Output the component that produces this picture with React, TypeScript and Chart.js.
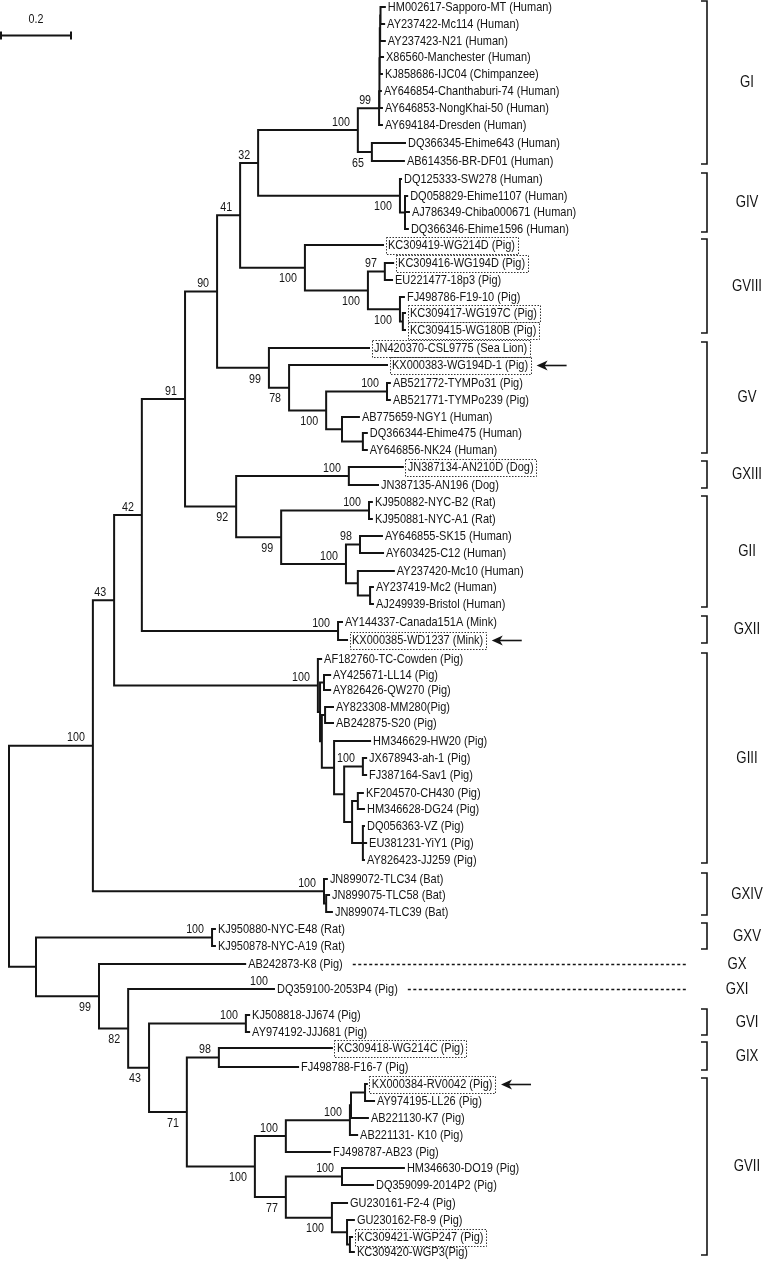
import { useEffect, useRef } from 'react';
import { Chart, registerables } from 'chart.js';
Chart.register(...registerables);

// ---------- Tree data ----------
// Internal nodes: parent index (-1 = root), depth from root (substitutions/site), bootstrap support, label below branch?
const nodeParent = [
  -1, 0, 1, 2, 3, 4, 5, 6, 7, 8, 9, 10, 11, 12, 13, 14, 8, 7, 17, 6,
  19, 20, 20, 22, 5, 24, 25, 26, 26, 28, 4, 30, 30, 32, 32, 34, 34, 36, 3, 2,
  39, 40, 40, 42, 42, 44, 45, 45, 47, 47, 1, 50, 0, 52, 52, 54, 55, 56, 56, 58,
  58, 60, 61, 62, 63, 60, 65, 65, 67, 68,
];
const nodeDepth = [
  0, 0.233, 0.292, 0.369, 0.489, 0.578, 0.642, 0.692, 0.969, 1.028, 1.029, 1.029, 1.03, 1.03, 1.031, 1.032, 1.008, 1.086, 1.1, 0.822,
  0.997, 1.044, 1.086, 1.094, 0.722, 0.778, 0.881, 1.05, 0.925, 0.983, 0.631, 0.944, 0.756, 1.0, 0.936, 0.975, 0.969, 1.003, 0.914, 0.858,
  0.864, 0.875, 0.869, 0.878, 0.903, 0.931, 0.983, 0.953, 0.969, 0.983, 0.875, 0.881, 0.075, 0.564, 0.25, 0.331, 0.389, 0.658, 0.494, 0.583,
  0.683, 0.769, 0.947, 0.95, 0.989, 0.769, 0.925, 0.897, 0.939, 0.947,
];
const nodeSupport = [
  '', '100', '43', '42', '91', '90', '41', '32', '100', '99', '', '', '', '', '', '', '65', '100', '', '100',
  '100', '97', '100', '', '99', '78', '100', '100', '', '', '92', '100', '99', '100', '100', '98', '', '', '100', '100',
  '', '', '', '', '', '', '100', '', '', '', '100', '', '', '100', '99', '82', '43', '100', '71', '98',
  '100', '100', '100', '', '', '77', '100', '100', '', '',
];
const nodeSupportBelow = [
  0, 0, 0, 0, 0, 0, 0, 0, 0, 0, 0, 0, 0, 0, 0, 0, 1, 1, 0, 1,
  1, 0, 1, 0, 1, 1, 1, 0, 0, 0, 1, 0, 1, 0, 0, 0, 0, 0, 0, 0,
  0, 0, 0, 0, 0, 0, 0, 0, 0, 0, 0, 0, 0, 0, 1, 1, 1, 0, 1, 0,
  1, 0, 0, 0, 0, 1, 0, 1, 0, 0,
];

// Leaves (tips), top to bottom
const leafNames = [
  'HM002617-Sapporo-MT (Human)', 'AY237422-Mc114 (Human)', 'AY237423-N21 (Human)', 'X86560-Manchester (Human)',
  'KJ858686-IJC04 (Chimpanzee)', 'AY646854-Chanthaburi-74 (Human)', 'AY646853-NongKhai-50 (Human)', 'AY694184-Dresden (Human)',
  'DQ366345-Ehime643 (Human)', 'AB614356-BR-DF01 (Human)', 'DQ125333-SW278 (Human)', 'DQ058829-Ehime1107 (Human)',
  'AJ786349-Chiba000671 (Human)', 'DQ366346-Ehime1596 (Human)', 'KC309419-WG214D (Pig)', 'KC309416-WG194D (Pig)',
  'EU221477-18p3 (Pig)', 'FJ498786-F19-10 (Pig)', 'KC309417-WG197C (Pig)', 'KC309415-WG180B (Pig)',
  'JN420370-CSL9775 (Sea Lion)', 'KX000383-WG194D-1 (Pig)', 'AB521772-TYMPo31 (Pig)', 'AB521771-TYMPo239 (Pig)',
  'AB775659-NGY1 (Human)', 'DQ366344-Ehime475 (Human)', 'AY646856-NK24 (Human)', 'JN387134-AN210D (Dog)',
  'JN387135-AN196 (Dog)', 'KJ950882-NYC-B2 (Rat)', 'KJ950881-NYC-A1 (Rat)', 'AY646855-SK15 (Human)',
  'AY603425-C12 (Human)', 'AY237420-Mc10 (Human)', 'AY237419-Mc2 (Human)', 'AJ249939-Bristol (Human)',
  'AY144337-Canada151A (Mink)', 'KX000385-WD1237 (Mink)', 'AF182760-TC-Cowden (Pig)', 'AY425671-LL14 (Pig)',
  'AY826426-QW270 (Pig)', 'AY823308-MM280(Pig)', 'AB242875-S20 (Pig)', 'HM346629-HW20 (Pig)',
  'JX678943-ah-1 (Pig)', 'FJ387164-Sav1 (Pig)', 'KF204570-CH430 (Pig)', 'HM346628-DG24 (Pig)',
  'DQ056363-VZ (Pig)', 'EU381231-YiY1 (Pig)', 'AY826423-JJ259 (Pig)', 'JN899072-TLC34 (Bat)',
  'JN899075-TLC58 (Bat)', 'JN899074-TLC39 (Bat)', 'KJ950880-NYC-E48 (Rat)', 'KJ950878-NYC-A19 (Rat)',
  'AB242873-K8 (Pig)', 'DQ359100-2053P4 (Pig)', 'KJ508818-JJ674 (Pig)', 'AY974192-JJJ681 (Pig)',
  'KC309418-WG214C (Pig)', 'FJ498788-F16-7 (Pig)', 'KX000384-RV0042 (Pig)', 'AY974195-LL26 (Pig)',
  'AB221130-K7 (Pig)', 'AB221131- K10 (Pig)', 'FJ498787-AB23 (Pig)', 'HM346630-DO19 (Pig)',
  'DQ359099-2014P2 (Pig)', 'GU230161-F2-4 (Pig)', 'GU230162-F8-9 (Pig)', 'KC309421-WGP247 (Pig)',
  'KC309420-WGP3(Pig)',
];
const leafParent = [
  15, 15, 14, 13, 12, 11, 10, 9, 16, 16, 17, 18, 18, 18, 19, 21, 21, 22, 23, 23,
  24, 25, 27, 27, 28, 29, 29, 31, 31, 33, 33, 35, 35, 36, 37, 37, 38, 38, 39, 41,
  41, 43, 43, 44, 46, 46, 48, 48, 49, 49, 49, 50, 51, 51, 53, 53, 54, 55, 57, 57,
  59, 59, 64, 64, 63, 62, 61, 66, 66, 67, 68, 69, 69,
];
const leafDepth = [
  1.044, 1.042, 1.044, 1.039, 1.036, 1.033, 1.036, 1.036, 1.1, 1.097, 1.089, 1.106, 1.111, 1.108, 1.039, 1.067, 1.064, 1.097, 1.1, 1.1,
  1.0, 1.05, 1.058, 1.058, 0.972, 0.994, 0.994, 1.094, 1.025, 1.008, 1.008, 1.036, 1.039, 1.069, 1.011, 1.011, 0.925, 0.939, 0.867, 0.892,
  0.892, 0.9, 0.9, 1.003, 0.992, 0.992, 0.983, 0.986, 0.986, 0.992, 0.986, 0.883, 0.889, 0.897, 0.572, 0.572, 0.656, 0.736, 0.667, 0.667,
  0.897, 0.803, 0.994, 1.014, 0.997, 0.967, 0.892, 1.097, 1.011, 0.939, 0.958, 0.953, 0.958,
];
const leafY = [
  7, 24, 41, 57, 74, 91, 108, 125, 143, 161, 179, 196, 212, 229, 245, 263, 280, 297, 313, 330,
  348, 365, 383, 400, 417, 433, 450, 467, 485, 502, 519, 536, 553, 571, 587, 604, 622, 640, 659, 675,
  690, 707, 723, 741, 758, 775, 793, 809, 826, 843, 860, 879, 895, 912, 929, 946, 964, 989, 1015, 1032,
  1048, 1067, 1084, 1101, 1118, 1135, 1152, 1168, 1185, 1203, 1220, 1237, 1252,
];
const boxedLeaves = [14, 15, 18, 19, 20, 21, 27, 37, 60, 62, 71];
const arrowLeaves = [21, 37, 62];
const leafSupportIndex = [57];
const leafSupportValue = ['100'];

// Genogroups: label, first tip, last tip (single-tip groups get a dashed leader)
const cladeLabels = ['GI', 'GIV', 'GVIII', 'GV', 'GXIII', 'GII', 'GXII', 'GIII', 'GXIV', 'GXV', 'GX', 'GXI', 'GVI', 'GIX', 'GVII'];
const cladeFirst = [0, 10, 14, 20, 27, 29, 36, 38, 51, 54, 56, 57, 58, 60, 62];
const cladeLast = [9, 13, 19, 26, 28, 35, 37, 50, 53, 55, 56, 57, 59, 61, 72];

const scaleBarValue = 0.2;
const scaleBarLabel = '0.2';

// ---------- layout constants ----------
const W = 763;
const H = 1264;
const PX_PER_UNIT = 360;
const X_MIN = -9 / PX_PER_UNIT;
const X_MAX = X_MIN + W / PX_PER_UNIT;
const INK = '#141414';
const FONT = '"Liberation Sans", Arial, Helvetica, sans-serif';

function computeTree() {
  const nN = nodeParent.length;
  const kidNodes: number[][] = Array.from({ length: nN }, () => []);
  const kidLeaves: number[][] = Array.from({ length: nN }, () => []);
  nodeParent.forEach((p, i) => { if (p >= 0) kidNodes[p].push(i); });
  leafParent.forEach((p, i) => kidLeaves[p].push(i));
  const nodeY: number[] = new Array(nN).fill(NaN);
  const span: [number, number][] = new Array(nN);
  const calc = (i: number): number => {
    if (!isNaN(nodeY[i])) return nodeY[i];
    const ys = [...kidNodes[i].map(calc), ...kidLeaves[i].map((l) => leafY[l])];
    const lo = Math.min(...ys);
    const hi = Math.max(...ys);
    span[i] = [lo, hi];
    nodeY[i] = (lo + hi) / 2;
    return nodeY[i];
  };
  for (let i = 0; i < nN; i++) calc(i);
  const pts: { x: number; y: number | null }[] = [];
  const seg = (x1: number, y1: number, x2: number, y2: number) => {
    pts.push({ x: x1, y: y1 }, { x: x2, y: y2 }, { x: x2, y: null });
  };
  for (let i = 0; i < nN; i++) {
    seg(nodeDepth[i], span[i][0], nodeDepth[i], span[i][1]);
    if (nodeParent[i] >= 0) seg(nodeDepth[nodeParent[i]], nodeY[i], nodeDepth[i], nodeY[i]);
  }
  leafNames.forEach((_, l) => seg(nodeDepth[leafParent[l]], leafY[l], leafDepth[l], leafY[l]));
  return { nodeY, pts };
}

function drawText(ctx: CanvasRenderingContext2D, text: string, x: number, y: number, size: number, sx: number, align: 'left' | 'right' | 'center') {
  ctx.save();
  ctx.font = `${size}px ${FONT}`;
  const w = ctx.measureText(text).width * sx;
  let left = x;
  if (align === 'right') left = x - w;
  else if (align === 'center') left = x - w / 2;
  ctx.translate(left, y);
  ctx.scale(sx, 1);
  ctx.fillStyle = INK;
  ctx.textAlign = 'left';
  ctx.textBaseline = 'middle';
  ctx.fillText(text, 0, 0);
  ctx.restore();
  return w;
}

export default function App() {
  const ref = useRef<HTMLCanvasElement | null>(null);
  useEffect(() => {
    if (!ref.current) return;
    const { nodeY, pts } = computeTree();

    const annotate = {
      id: 'treeAnnotations',
      afterDatasetsDraw(chart: any) {
        const ctx: CanvasRenderingContext2D = chart.ctx;
        const xs = chart.scales.x;
        const ys = chart.scales.y;
        const area = chart.chartArea;
        const px = (v: number) => xs.getPixelForValue(v);
        const py = (v: number) => ys.getPixelForValue(v);
        const textEnd: number[] = [];
        const boxRight: number[] = [];

        // tip labels
        leafNames.forEach((name, l) => {
          const boxed = boxedLeaves.includes(l);
          const x0 = px(leafDepth[l]) + (boxed ? 5 : 3);
          const y0 = py(leafY[l]) + 0.5;
          const w = drawText(ctx, name, x0, y0, 13.4, 0.82, 'left');
          textEnd[l] = x0 + w;
          if (boxed) {
            const bx = x0 - 2.5;
            const bw = w + 5;
            ctx.save();
            ctx.strokeStyle = '#333';
            ctx.lineWidth = 1;
            ctx.setLineDash([1.5, 1.5]);
            ctx.strokeRect(Math.round(bx) + 0.5, Math.round(y0 - 8.5) + 0.5, Math.round(bw), 17);
            ctx.restore();
            boxRight[l] = bx + bw;
          }
        });

        // arrows
        arrowLeaves.forEach((l) => {
          const y0 = Math.round(py(leafY[l])) + 0.5;
          const tip = (boxRight[l] ?? textEnd[l]) + 6;
          ctx.save();
          ctx.strokeStyle = INK;
          ctx.fillStyle = INK;
          ctx.lineWidth = 1.6;
          ctx.beginPath();
          ctx.moveTo(tip + 6, y0);
          ctx.lineTo(tip + 30, y0);
          ctx.stroke();
          ctx.beginPath();
          ctx.moveTo(tip, y0);
          ctx.lineTo(tip + 11, y0 - 5);
          ctx.lineTo(tip + 8, y0);
          ctx.lineTo(tip + 11, y0 + 5);
          ctx.closePath();
          ctx.fill();
          ctx.restore();
        });

        // bootstrap values
        nodeSupport.forEach((s, i) => {
          if (!s) return;
          const yy = py(nodeY[i]) + (nodeSupportBelow[i] ? 11 : -8);
          drawText(ctx, s, px(nodeDepth[i]) - 8, yy, 13.4, 0.8, 'right');
        });
        leafSupportIndex.forEach((l, k) => {
          drawText(ctx, leafSupportValue[k], px(leafDepth[l]) - 6, py(leafY[l]) - 8, 13.4, 0.8, 'right');
        });

        // genogroup brackets / leaders
        const bx = area.right - 56;
        const lx = area.right - 16;
        ctx.save();
        ctx.strokeStyle = INK;
        ctx.lineWidth = 1.6;
        cladeLabels.forEach((lab, c) => {
          const f = cladeFirst[c];
          const e = cladeLast[c];
          if (f === e) {
            const yy = Math.round(py(leafY[f])) + 0.5;
            ctx.save();
            ctx.lineWidth = 1.3;
            ctx.setLineDash([3, 2.5]);
            ctx.beginPath();
            ctx.moveTo(textEnd[f] + 10, yy);
            ctx.lineTo(bx - 20, yy);
            ctx.stroke();
            ctx.restore();
            drawText(ctx, lab, lx - 10, py(leafY[f]) + 0.5, 16.5, 0.8, 'center');
          } else {
            const top = py(leafY[f] - 6);
            const bot = py(leafY[e] + 3);
            ctx.beginPath();
            ctx.moveTo(bx - 6, top);
            ctx.lineTo(bx, top);
            ctx.lineTo(bx, bot);
            ctx.lineTo(bx - 6, bot);
            ctx.stroke();
            drawText(ctx, lab, lx, (top + bot) / 2, 16.5, 0.8, 'center');
          }
        });
        ctx.restore();

        // scale bar
        const sx0 = px(X_MIN);
        const sx1 = px(X_MIN + scaleBarValue);
        const sy = Math.round(py(35)) + 0.5;
        ctx.save();
        ctx.strokeStyle = INK;
        ctx.lineWidth = 2;
        ctx.beginPath();
        ctx.moveTo(sx0, sy);
        ctx.lineTo(sx1, sy);
        ctx.moveTo(sx0 + 1, sy - 4);
        ctx.lineTo(sx0 + 1, sy + 4);
        ctx.moveTo(sx1 - 1, sy - 4);
        ctx.lineTo(sx1 - 1, sy + 4);
        ctx.stroke();
        ctx.restore();
        drawText(ctx, scaleBarLabel, (sx0 + sx1) / 2, py(19), 13.4, 0.8, 'center');
      },
    };

    const chart = new Chart(ref.current, {
      type: 'line',
      data: {
        datasets: [
          {
            data: pts as any,
            borderColor: INK,
            borderWidth: 2,
            pointRadius: 0,
            pointHoverRadius: 0,
            tension: 0,
            spanGaps: false,
            fill: false,
            borderCapStyle: 'square',
            borderJoinStyle: 'miter',
          } as any,
        ],
      },
      options: {
        animation: false,
        responsive: false,
        maintainAspectRatio: false,
        events: [],
        layout: { padding: 0 },
        plugins: { legend: { display: false }, tooltip: { enabled: false } },
        scales: {
          x: { type: 'linear', min: X_MIN, max: X_MAX, display: false },
          y: { type: 'linear', min: 0, max: H, reverse: true, display: false },
        },
      },
      plugins: [annotate],
    });
    return () => chart.destroy();
  }, []);

  return (
    <div style={{ position: 'absolute', left: 0, top: 0, width: W, height: H, background: '#fff' }}>
      <canvas ref={ref} width={W} height={H} style={{ display: 'block', width: W, height: H }} />
    </div>
  );
}
